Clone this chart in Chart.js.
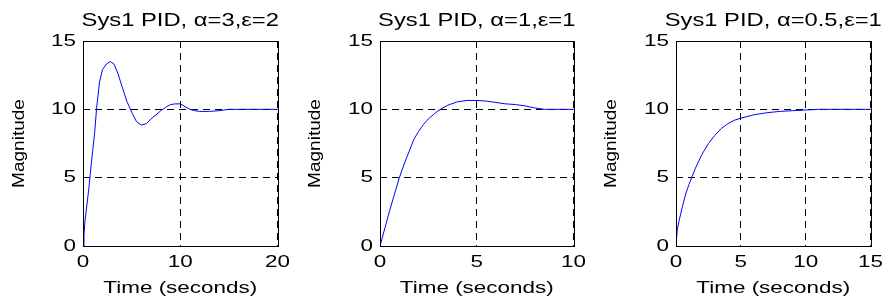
<!DOCTYPE html>
<html>
<head>
<meta charset="utf-8">
<script src="https://cdn.jsdelivr.net/npm/chart.js@4"></script>
<style>
  html, body { margin: 0; padding: 0; background: #fff; }
  #wrap { position: relative; width: 889px; height: 299px; overflow: hidden; }
  canvas { position: absolute; top: 0; }
</style>
</head>
<body>
<div id="wrap">
  <canvas id="c1" width="296" height="299" style="left:0px"></canvas>
  <canvas id="c2" width="296" height="299" style="left:296px"></canvas>
  <canvas id="c3" width="297" height="299" style="left:592px"></canvas>
</div>
<script>
// step responses
const titles = ['Sys1 PID, α=3,ε=2', 'Sys1 PID, α=1,ε=1', 'Sys1 PID, α=0.5,ε=1']
const xMax = [20, 10, 15]
const xStep = [10, 5, 5]
const yTicks = [0, 5, 10, 15]

const time1 = [0, 0.1, 0.2, 0.4, 0.6, 0.75, 1.0, 1.2, 1.4, 1.7, 2.0, 2.4, 2.8, 3.2, 3.6, 4.0, 4.5, 5.0, 5.5, 6.0, 6.5, 7.0, 7.5, 8.0, 8.5, 9.0, 9.5, 10.0, 10.5, 11.0, 11.5, 12.0, 13.0, 14.0, 15.0, 20.0]
const mag1 = [0, 0.8, 1.8, 3.0, 4.2, 5.3, 7.0, 8.3, 10.1, 12.0, 12.9, 13.3, 13.5, 13.3, 12.6, 11.7, 10.6, 9.8, 9.1, 8.85, 8.95, 9.3, 9.6, 9.9, 10.15, 10.35, 10.4, 10.4, 10.2, 10.0, 9.9, 9.85, 9.85, 9.9, 10.0, 10.0]

const time2 = [0, 0.25, 0.5, 0.75, 1.0, 1.25, 1.5, 1.75, 2.0, 2.25, 2.5, 2.75, 3.0, 3.5, 4.0, 4.5, 5.0, 5.5, 6.0, 6.5, 7.0, 7.5, 8.0, 8.5, 10.0]
const mag2 = [0, 1.3, 2.6, 3.8, 5.0, 6.0, 6.9, 7.8, 8.4, 8.9, 9.3, 9.6, 9.9, 10.3, 10.55, 10.65, 10.65, 10.6, 10.5, 10.4, 10.35, 10.25, 10.1, 10.0, 10.0]

const time3 = [0, 0.1, 0.25, 0.5, 0.75, 1.0, 1.25, 1.5, 2.0, 2.5, 3.0, 3.5, 4.0, 4.5, 5.0, 6.0, 7.0, 8.0, 9.0, 10.0, 11.0, 15.0]
const mag3 = [0, 1.2, 1.9, 2.9, 3.8, 4.5, 5.1, 5.7, 6.7, 7.5, 8.1, 8.6, 8.95, 9.2, 9.35, 9.6, 9.75, 9.85, 9.9, 9.95, 10.0, 10.0]

const times = [time1, time2, time3]
const mags = [mag1, mag2, mag3]

// the figure's font is drawn wide, so stretch text along its own direction
// (less for the rotated y label, which is only slightly longer in the picture)
const SX = 1.32
const SX_ROT = 1.12
function widenText (ctx) {
  const fill = ctx.fillText.bind(ctx)
  const measure = ctx.measureText.bind(ctx)
  ctx.fillText = (t, x, y) => {
    ctx.save()
    ctx.translate(x, y)
    const rotated = Math.abs(ctx.getTransform().b) > 0.01
    ctx.scale(rotated ? SX_ROT : SX, 1)
    fill(t, 0, 0)
    ctx.restore()
  }
  ctx.measureText = t => {
    const m = measure(t)
    return {
      width: m.width * SX,
      actualBoundingBoxAscent: m.actualBoundingBoxAscent,
      actualBoundingBoxDescent: m.actualBoundingBoxDescent,
      actualBoundingBoxLeft: m.actualBoundingBoxLeft * SX,
      actualBoundingBoxRight: m.actualBoundingBoxRight * SX
    }
  }
}

const boxPlugin = {
  id: 'box',
  afterDraw (chart) {
    const { ctx, chartArea: a } = chart
    ctx.save()
    ctx.strokeStyle = '#000'
    ctx.lineWidth = 1
    ctx.setLineDash([])
    ctx.strokeRect(Math.round(a.left) + 0.5, Math.round(a.top) + 0.5, Math.round(a.right - a.left), Math.round(a.bottom - a.top))
    ctx.restore()
  }
}

Chart.defaults.color = '#000'
Chart.defaults.font.family = "'Liberation Sans', Arial, sans-serif"

const yWidth = [83, 84, 84]
const rightPad = [13, 14, 16]

for (let i = 0; i < 3; i++) {
  const canvas = document.getElementById('c' + (i + 1))
  widenText(canvas.getContext('2d'))
  new Chart(canvas, {
    type: 'line',
    data: {
      datasets: [{
        data: times[i].map((t, k) => ({ x: t, y: mags[i][k] })),
        borderColor: '#0000ff',
        borderWidth: 1,
        pointRadius: 0,
        tension: 0,
        fill: false
      }]
    },
    plugins: [boxPlugin],
    options: {
      responsive: false,
      animation: false,
      devicePixelRatio: 1,
      layout: { padding: { left: 0, right: rightPad[i], top: 0, bottom: 0 } },
      plugins: {
        legend: { display: false },
        tooltip: { enabled: false },
        title: {
          display: true,
          text: titles[i],
          fullSize: false,
          font: { size: 18, weight: 'normal' },
          padding: { top: 10, bottom: 9.4 }
        }
      },
      scales: {
        x: {
          type: 'linear',
          min: 0,
          max: xMax[i],
          ticks: { stepSize: xStep[i], padding: 6, font: { size: 17 }, maxRotation: 0 },
          grid: { color: '#000', lineWidth: 1, drawTicks: false },
          border: { display: false, dash: [7, 5] },
          title: { display: true, text: 'Time (seconds)', font: { size: 17 }, padding: { top: 0, bottom: 0 } },
          afterFit: s => { s.height = 53 }
        },
        y: {
          min: 0,
          max: 15,
          afterBuildTicks: s => { s.ticks = yTicks.map(v => ({ value: v })) },
          ticks: { padding: 7, font: { size: 17 } },
          grid: { color: '#000', lineWidth: 1, drawTicks: false },
          border: { display: false, dash: [7, 5] },
          title: { display: true, text: 'Magnitude', font: { size: 17 }, padding: { top: 9, bottom: 0 } },
          afterFit: s => { s.width = yWidth[i] }
        }
      }
    }
  })
}
</script>
</body>
</html>
